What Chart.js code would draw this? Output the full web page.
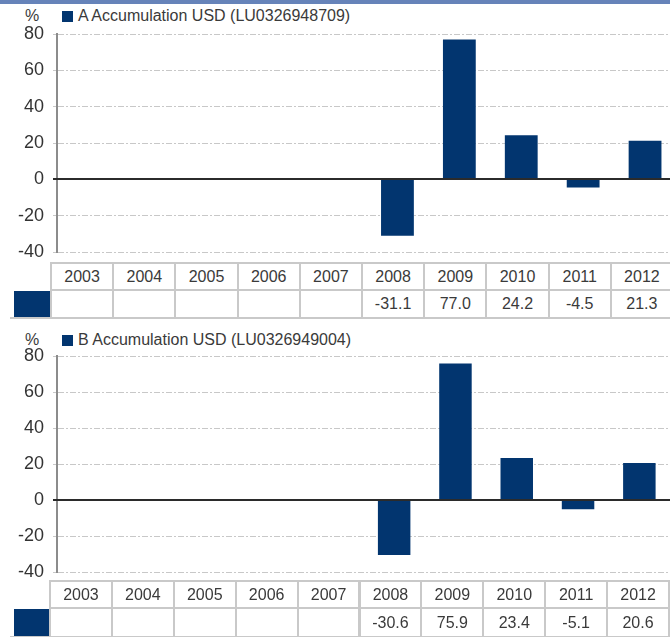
<!DOCTYPE html>
<html>
<head>
<meta charset="utf-8">
<script src="https://cdn.jsdelivr.net/npm/chart.js@4/dist/chart.umd.min.js"></script>
<style>
  html, body { margin: 0; padding: 0; background: #fff; }
  body { width: 670px; height: 637px; overflow: hidden; position: relative;
         font-family: 'Liberation Sans', Arial, sans-serif; color: #333; }
  .band { position: absolute; left: 0; top: 0; width: 670px; height: 4px; background: #6683b9; }
  .panel { position: absolute; left: 0; width: 670px; overflow: hidden; }
  .panel canvas { position: absolute; left: 0; top: 0; }
  .pct, .legend-text { position: absolute; font-size: 16px; line-height: 16px; color: #3a3a3a; white-space: nowrap; }
  .legend-box { position: absolute; width: 11px; height: 11px; background: #02356f; }
  .cell { position: absolute; box-sizing: border-box; border: 2px solid #c9c9c9;
          font-size: 16px; color: #3a3a3a; text-align: center; white-space: nowrap; }
  .swatch { position: absolute; background: #02356f; }
</style>
</head>
<body>
<div class="band"></div>
<div id="panelA" class="panel"></div>
<div id="panelB" class="panel"></div>

<script>
// ---- data ----
const years = ['2003', '2004', '2005', '2006', '2007', '2008', '2009', '2010', '2011', '2012'];
const fundA = [null, null, null, null, null, -31.1, 77.0, 24.2, -4.5, 21.3];
const fundB = [null, null, null, null, null, -30.6, 75.9, 23.4, -5.1, 20.6];
const labelA = 'A Accumulation USD (LU0326948709)';
const labelB = 'B Accumulation USD (LU0326949004)';
const yMin = -40, yMax = 80, yStep = 20;

const BAR = '#02356f';
const FONT = "'Liberation Sans', Arial, sans-serif";

// solid zero line on top of the dashed grid
const zeroLine = {
  id: 'zeroLine',
  afterDatasetsDraw(chart) {
    const { ctx, chartArea, scales: { y } } = chart;
    const py = Math.round(y.getPixelForValue(0));
    ctx.save();
    ctx.strokeStyle = '#2b2b2b';
    ctx.lineWidth = 2;
    ctx.beginPath();
    ctx.moveTo(chartArea.left - 4, py);
    ctx.lineTo(chartArea.right, py);
    ctx.stroke();
    ctx.restore();
  }
};

function buildPanel(el, cfg) {
  el.style.top = cfg.top + 'px';
  el.style.height = cfg.height + 'px';

  // legend row
  el.insertAdjacentHTML('beforeend', `
    <div class="pct" style="left:25px; top:${cfg.legendTop}px">%</div>
    <div class="legend-box" style="left:62px; top:${cfg.legendTop + 3}px"></div>
    <div class="legend-text" style="left:78px; top:${cfg.legendTop}px">${cfg.label}</div>`);

  const canvas = document.createElement('canvas');
  canvas.width = cfg.canvasW;
  canvas.height = cfg.canvasH;
  canvas.style.width = cfg.canvasW + 'px';
  canvas.style.height = cfg.canvasH + 'px';
  el.appendChild(canvas);

  new Chart(canvas.getContext('2d'), {
    type: 'bar',
    data: {
      labels: years,
      datasets: [{
        label: cfg.label,
        data: cfg.values,
        backgroundColor: BAR,
        borderWidth: 0,
        categoryPercentage: 1,
        barPercentage: 0.53,
      }]
    },
    options: {
      responsive: false,
      animation: false,
      devicePixelRatio: 1,
      layout: { padding: { top: cfg.padTop, bottom: cfg.padBottom, left: 0, right: 0 } },
      plugins: { legend: { display: false }, tooltip: { enabled: false } },
      scales: {
        x: { display: false, offset: true, grid: { display: false } },
        y: {
          min: yMin, max: yMax,
          afterFit: (s) => { s.width = 57; s.paddingTop = 0; s.paddingBottom = 0; },
          ticks: { stepSize: yStep, color: '#333', padding: 9, font: { family: FONT, size: 18 } },
          grid: { color: '#c8c8c8', lineWidth: 1, tickLength: 4, drawTicks: true },
          border: { display: true, color: '#8c8c8c', width: 2, dash: [6, 2, 2, 2] },
        },
      },
    },
    plugins: [zeroLine],
  });

  // table under the chart: year row + value row
  const t = cfg.tableTop - cfg.top;
  let html = '';
  years.forEach((yr, i) => {
    const left = cfg.tableLeft + i * cfg.colW;
    html += `<div class="cell" style="left:${left}px; top:${t}px; width:${cfg.colW + 2}px; height:${cfg.rowH1}px; line-height:${cfg.rowH1 - 4}px">${yr}</div>`;
    const v = cfg.values[i];
    html += `<div class="cell" style="left:${left}px; top:${t + cfg.rowH1 - 2}px; width:${cfg.colW + 2}px; height:${cfg.rowH2}px; line-height:${cfg.rowH2 - 4}px">${v == null ? '' : v.toFixed(1)}</div>`;
  });
  html += `<div class="swatch" style="left:14px; top:${t + cfg.rowH1}px; width:${cfg.tableLeft - 14}px; height:${cfg.rowH2 - 4}px"></div>`;
  html += `<div style="position:absolute; left:10px; top:${t + cfg.rowH1 + cfg.rowH2 - 4}px; width:${cfg.tableLeft - 10}px; height:2px; background:#c9c9c9"></div>`;
  el.insertAdjacentHTML('beforeend', html);
}

buildPanel(document.getElementById('panelA'), {
  label: labelA, values: fundA,
  top: 0, height: 322, legendTop: 8,
  canvasW: 676, canvasH: 262, padTop: 34, padBottom: 10,
  tableTop: 262, tableLeft: 50, colW: 62.2, rowH1: 29, rowH2: 30,
});

buildPanel(document.getElementById('panelB'), {
  label: labelB, values: fundB,
  top: 322, height: 315, legendTop: 10,
  canvasW: 670, canvasH: 260, padTop: 34, padBottom: 10,
  tableTop: 580, tableLeft: 49, colW: 61.9, rowH1: 29, rowH2: 31,
});
</script>
</body>
</html>
